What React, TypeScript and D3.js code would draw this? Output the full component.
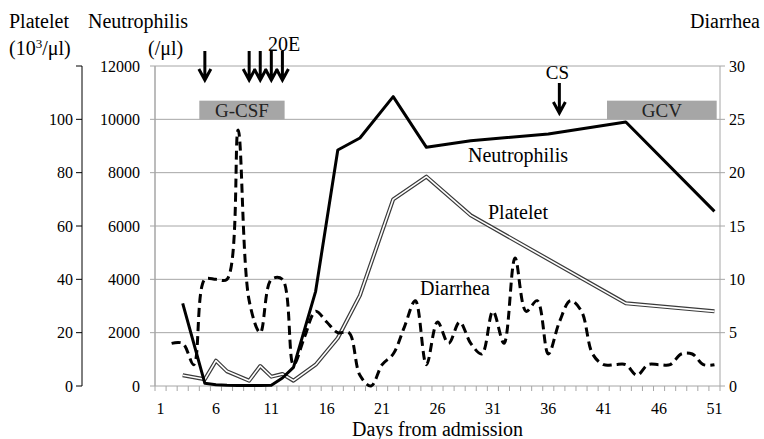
import React from 'react'
import * as d3 from 'd3'

// x axis: days from admission
const dayTicks = [1, 6, 11, 16, 21, 26, 31, 36, 41, 46, 51]
const neutTicks = [0, 2000, 4000, 6000, 8000, 10000, 12000]
const pltTicks = [0, 20, 40, 60, 80, 100, 120]
const diarTicks = [0, 5, 10, 15, 20, 25, 30]

// Neutrophilis (/µl)
const neutDays = [3, 5, 6, 7, 8, 9, 10, 11, 12, 13, 15, 17, 19, 22, 25, 29, 36, 43, 51]
const neutVals = [3100, 100, 50, 30, 20, 20, 20, 30, 300, 700, 3550, 8850, 9300, 10850, 8950, 9200, 9450, 9900, 6550]

// Platelet (10^3/µl)
const pltDays = [3, 5, 6, 7, 9, 10, 11, 12, 13, 15, 17, 19, 22, 25, 29, 43, 51]
const pltVals = [4, 2.5, 9.5, 5.5, 2, 7.5, 3.5, 4.5, 2, 8, 18, 34, 70, 78.5, 64, 31, 28]

// Diarrhea (times / day), days 2..51
const diarDays = d3.range(2, 52)
const diarVals = [4, 4, 2, 10, 10, 10, 24, 8, 5, 10, 10, 2, 4.6, 7, 6, 5, 5, 1, 0, 2, 3, 5.5, 8, 2,
  6, 4, 6, 4, 3, 7, 4, 12, 7, 8, 3, 6, 8, 7, 3, 2, 2, 2, 1, 2, 2, 2, 3, 3, 2, 2]

// treatment annotations
const arrowDays = [5, 9, 10, 11, 12]
const csDay = 37
const gcsfSpan = [4.5, 12.2]
const gcvSpan = [41.3, 51.2]

const W = 764
const H = 439
const left = 155
const right = 720
const top = 66
const bottom = 386
const serif = "'Liberation Serif', 'DejaVu Serif', serif"
const grid = '#a6a6a6'

const App = () => {
    const x = d3.scaleLinear().domain([0.5, 51.5]).range([left, right])
    const yN = d3.scaleLinear().domain([0, 12000]).range([bottom, top])
    const yP = d3.scaleLinear().domain([0, 120]).range([bottom, top])
    const yD = d3.scaleLinear().domain([0, 30]).range([bottom, top])

    const lineN = d3.line<number>().x((d, i) => x(neutDays[i])).y(d => yN(d))
    const lineP = d3.line<number>().x((d, i) => x(pltDays[i])).y(d => yP(d))
    const lineD = d3.line<number>()
          .x((d, i) => x(diarDays[i]))
          .y(d => yD(d))
          .curve(d3.curveCatmullRom.alpha(0.5))

    const minorTicks = d3.range(0, 52).map(i => x(i + 0.5))

    const arrow = (cx, y0, y1, key) => (
        <path
            key={key}
            d={`M${cx},${y0}L${cx},${y1}M${cx - 6},${y1 - 11}L${cx},${y1}L${cx + 6},${y1 - 11}`}
            fill="none"
            stroke="#000"
            strokeWidth={3}
        />
    )

    const box = (span, label) => (
        <g>
            <rect
                x={x(span[0])}
                y={yN(10700)}
                width={x(span[1]) - x(span[0])}
                height={yN(10000) - yN(10700)}
                fill="#a6a6a6"
            />
            <text
                x={(x(span[0]) + x(span[1])) / 2}
                y={yN(10350)}
                dy="0.35em"
                textAnchor="middle"
                fontSize={19}
                fill="#222"
            >{label}</text>
        </g>
    )

    return (
        <svg width={W} height={H} style={{ position: 'absolute', left: 0, top: 0, background: '#fff', fontFamily: serif }}>
            <rect width={W} height={H} fill="#fff" />

            {/* grid */}
            {neutTicks.map(t => (
                <line key={`g${t}`} x1={left} x2={right} y1={yN(t)} y2={yN(t)} stroke={grid} strokeWidth={1} />
            ))}
            <line x1={left} x2={left} y1={top} y2={bottom} stroke={grid} strokeWidth={1.5} />
            <line x1={right} x2={right} y1={top} y2={bottom} stroke={grid} strokeWidth={1} />

            {/* neutrophil axis */}
            {neutTicks.map(t => (
                <g key={`n${t}`}>
                    <line x1={left - 5} x2={left} y1={yN(t)} y2={yN(t)} stroke={grid} />
                    <text x={140} y={yN(t)} dy="0.35em" textAnchor="end" fontSize={16}>{t}</text>
                </g>
            ))}

            {/* platelet axis */}
            <line x1={82} x2={82} y1={top} y2={bottom} stroke="#000" strokeWidth={1} />
            {pltTicks.map(t => (
                <g key={`p${t}`}>
                    <line x1={76} x2={82} y1={yP(t)} y2={yP(t)} stroke="#000" />
                    {t < 120 && (
                        <text x={73} y={yP(t)} dy="0.35em" textAnchor="end" fontSize={16}>{t}</text>
                    )}
                </g>
            ))}

            {/* diarrhea axis */}
            {diarTicks.map(t => (
                <g key={`d${t}`}>
                    <line x1={right} x2={right + 5} y1={yD(t)} y2={yD(t)} stroke={grid} />
                    <text x={729} y={yD(t)} dy="0.35em" fontSize={16}>{t}</text>
                </g>
            ))}

            {/* day axis */}
            {minorTicks.map((mx, i) => (
                <line key={`m${i}`} x1={mx} x2={mx} y1={bottom} y2={bottom + 5} stroke={grid} />
            ))}
            {dayTicks.map(d => (
                <text key={`x${d}`} x={x(d)} y={414} textAnchor="middle" fontSize={16}>{d}</text>
            ))}
            <text x={(left + right) / 2} y={436} textAnchor="middle" fontSize={20}>Days from admission</text>

            {/* headers */}
            <text x={9} y={28} fontSize={20}>Platelet</text>
            <text x={9} y={55} fontSize={20}>(10<tspan dy={-7} fontSize={13}>3</tspan><tspan dy={7}>/μl)</tspan></text>
            <text x={88} y={28} fontSize={20}>Neutrophilis</text>
            <text x={148} y={55} fontSize={20}>(/μl)</text>
            <text x={760} y={28} fontSize={20} textAnchor="end">Diarrhea</text>

            {/* treatments */}
            {box(gcsfSpan, 'G-CSF')}
            {box(gcvSpan, 'GCV')}
            {arrowDays.map(d => arrow(x(d), 51, 80, `a${d}`))}
            <text x={284} y={51} textAnchor="middle" fontSize={20}>20E</text>
            {arrow(x(csDay), 83, 113, 'cs')}
            <text x={x(csDay) - 2} y={79} textAnchor="middle" fontSize={19}>CS</text>

            {/* series */}
            <path d={lineP(pltVals)} fill="none" stroke="#3a3a3a" strokeWidth={4} strokeLinejoin="round" />
            <path d={lineP(pltVals)} fill="none" stroke="#fff" strokeWidth={1.6} strokeLinejoin="round" />
            <path d={lineN(neutVals)} fill="none" stroke="#000" strokeWidth={3} strokeLinejoin="round" />
            <path d={lineD(diarVals)} fill="none" stroke="#000" strokeWidth={3} strokeDasharray="9,5" />

            {/* series labels */}
            <text x={468} y={162} fontSize={20}>Neutrophilis</text>
            <text x={488} y={219} fontSize={20}>Platelet</text>
            <text x={420} y={295} fontSize={20}>Diarrhea</text>
        </svg>
    )
}

export default App
